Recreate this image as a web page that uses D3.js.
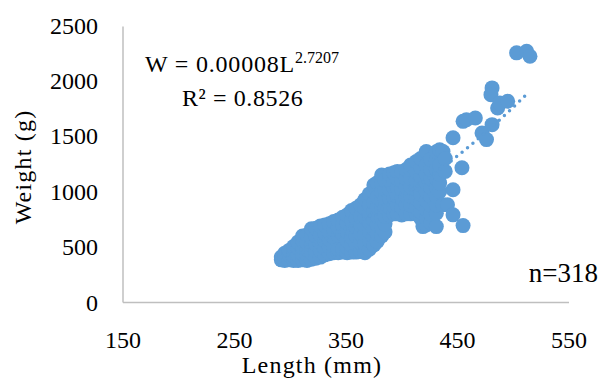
<!DOCTYPE html>
<html>
<head>
<meta charset="utf-8">
<script src="https://cdn.jsdelivr.net/npm/d3@7"></script>
<style>
  body { margin: 0; background: #fff; }
  text { font-family: "Liberation Serif", serif; fill: #000; }
  .tick-text { font-size: 24px; }
  .axis-text { font-size: 24px; letter-spacing: 1.2px; }
</style>
</head>
<body>
<div id="chart"></div>
<script>
// ticks
var x_ticks = [150, 250, 350, 450, 550]
var y_ticks = [0, 500, 1000, 1500, 2000, 2500]

// length (mm), weight (g)
var points = [
  [292, 385], [292, 410],
  [295, 380], [295, 420], [295, 445],
  [299, 385], [299, 430], [299, 470],
  [303, 380], [303, 420], [303, 470], [303, 505],
  [307, 380], [307, 430], [307, 490], [307, 545],
  [311, 385], [311, 440], [311, 500], [311, 560], [311, 600],
  [315, 380], [315, 430], [315, 480], [315, 540], [315, 610],
  [319, 390], [319, 450], [319, 520], [319, 590], [319, 665],
  [323, 400], [323, 460], [323, 530], [323, 600], [323, 670],
  [327, 410], [327, 470], [327, 540], [327, 610], [327, 690],
  [331, 430], [331, 490], [331, 560], [331, 630], [331, 700],
  [335, 440], [335, 500], [335, 570], [335, 640], [335, 710],
  [339, 450], [339, 510], [339, 590], [339, 660], [339, 730],
  [343, 450], [343, 480], [343, 610], [343, 680], [343, 745],
  [347, 455], [347, 480], [347, 620], [347, 700], [347, 770],
  [351, 450], [351, 500], [351, 560], [351, 640], [351, 720], [351, 790],
  [355, 455], [355, 520], [355, 590], [355, 660], [355, 740], [355, 830],
  [359, 455], [359, 530], [359, 600], [359, 680], [359, 760], [359, 850],
  [363, 460], [363, 540], [363, 620], [363, 700], [363, 780], [363, 880],
  [367, 450], [367, 530], [367, 610], [367, 690], [367, 770], [367, 850], [367, 930],
  [371, 480], [371, 560], [371, 640], [371, 720], [371, 800], [371, 880], [371, 980],
  [375, 520], [375, 590], [375, 660], [375, 740], [375, 820], [375, 900], [375, 1000], [375, 1060],
  [378, 550], [378, 620], [378, 700], [378, 780], [378, 860], [378, 950], [378, 1080],
  [382, 600], [382, 680], [382, 760], [382, 840], [382, 920], [382, 1000], [382, 1080], [382, 1150],
  [385, 637], [385, 710], [385, 780], [385, 860], [385, 940], [385, 1020], [385, 1100],
  [389, 790], [389, 860], [389, 940], [389, 1020], [389, 1100], [389, 1160],
  [393, 800], [393, 870], [393, 950], [393, 1030], [393, 1100], [393, 1170],
  [396, 800], [396, 880], [396, 960], [396, 1040], [396, 1120], [396, 1183],
  [400, 790], [400, 860], [400, 940], [400, 1020], [400, 1100], [400, 1180],
  [404, 800], [404, 880], [404, 960], [404, 1040], [404, 1120], [404, 1200],
  [408, 800], [408, 880], [408, 960], [408, 1040], [408, 1120], [408, 1200], [408, 1240],
  [413, 800], [413, 860], [413, 940], [413, 1020], [413, 1100], [413, 1180], [413, 1273],
  [417, 760], [417, 820], [417, 900], [417, 980], [417, 1060], [417, 1140], [417, 1220], [417, 1300],
  [419, 685],
  [422, 700], [422, 761], [422, 840], [422, 920], [422, 1000], [422, 1080], [422, 1160], [422, 1240], [422, 1363],
  [426, 720], [426, 800], [426, 880], [426, 960], [426, 1040], [426, 1120], [426, 1200], [426, 1290],
  [431, 685], [431, 806], [431, 880], [431, 960], [431, 1040], [431, 1120], [431, 1200], [431, 1280], [431, 1360],
  [434, 1002], [434, 1080], [434, 1160], [434, 1240], [434, 1379],
  [437, 882], [437, 1363],
  [439, 1183], [439, 1300],
  [441, 882],
  [446, 791], [446, 1017], [446, 1487],
  [454, 1216],
  [455, 694], [455, 1635],
  [458, 1650],
  [466, 1665],
  [472, 1530],
  [476, 1470],
  [481, 1605], [481, 1937], [480, 1876],
  [486, 1756],
  [488, 1801],
  [495, 1816],
  [503, 2253],
  [512, 2268],
  [515, 2222]
]

// power trendline shown on the chart: W = a * L^b
var trend_a = 0.00008
var trend_b = 2.7207
var trend_range = [292, 513]

var width = 603
var height = 383

var svg = d3.select("#chart")
    .append("svg")
    .attr("width", width)
    .attr("height", height);

var x = d3.scaleLinear()
    .domain([150, 550])
    .range([123, 569]);

var y = d3.scaleLinear()
    .domain([0, 2500])
    .range([302.5, 25.5]);

// axis lines (no ticks, no grid)
svg.append("line")
    .attr("x1", x(150)).attr("x2", x(150))
    .attr("y1", y(2500) + 1).attr("y2", y(0))
    .style("stroke", "#bfbfbf")
    .style("stroke-width", 1.5);

svg.append("line")
    .attr("x1", x(150)).attr("x2", x(550))
    .attr("y1", y(0)).attr("y2", y(0))
    .style("stroke", "#bfbfbf")
    .style("stroke-width", 1.5);

// tick labels
svg.selectAll(".ytick")
    .data(y_ticks)
    .enter().append("text")
    .attr("class", "tick-text")
    .attr("text-anchor", "end")
    .attr("x", 98)
    .attr("y", function(d) { return y(d) + 8; })
    .text(function(d) { return d; });

svg.selectAll(".xtick")
    .data(x_ticks)
    .enter().append("text")
    .attr("class", "tick-text")
    .attr("text-anchor", "middle")
    .attr("x", function(d) { return x(d); })
    .attr("y", 348)
    .text(function(d) { return d; });

// points
svg.append("g")
    .selectAll("circle")
    .data(points)
    .enter().append("circle")
    .attr("cx", function(d) { return x(d[0]); })
    .attr("cy", function(d) { return y(d[1]); })
    .attr("r", 7.5)
    .style("fill", "#5b9bd5");

// dotted trendline
var trend = d3.range(trend_range[0], trend_range[1] + 1, 1).map(function(L) {
  return [L, trend_a * Math.pow(L, trend_b)];
});
var line = d3.line()
    .x(function(d) { return x(d[0]); })
    .y(function(d) { return y(d[1]); });

svg.append("path")
    .attr("d", line(trend))
    .style("fill", "none")
    .style("stroke", "#5b9bd5")
    .style("stroke-width", 3.5)
    .style("stroke-linecap", "round")
    .style("stroke-dasharray", "0,7");

// equation
var eq = svg.append("text")
    .attr("x", 145)
    .attr("y", 72)
    .style("font-size", "24px")
    .style("letter-spacing", "0.8px");
eq.append("tspan").text("W = 0.00008L");
eq.append("tspan")
    .attr("dy", -9)
    .style("font-size", "16px")
    .style("letter-spacing", "0px")
    .text("2.7207");

svg.append("text")
    .attr("x", 182)
    .attr("y", 106)
    .style("font-size", "24px")
    .style("letter-spacing", "0.6px")
    .text("R² = 0.8526");

svg.append("text")
    .attr("x", 598)
    .attr("y", 282)
    .attr("text-anchor", "end")
    .style("font-size", "27px")
    .text("n=318");

// axis titles
svg.append("text")
    .attr("class", "axis-text")
    .attr("text-anchor", "middle")
    .attr("x", 312)
    .attr("y", 373)
    .text("Length (mm)");

svg.append("text")
    .attr("class", "axis-text")
    .attr("text-anchor", "middle")
    .attr("transform", "translate(" + 31 + "," + 167 + ")rotate(-90)")
    .text("Weight (g)");
</script>
</body>
</html>
